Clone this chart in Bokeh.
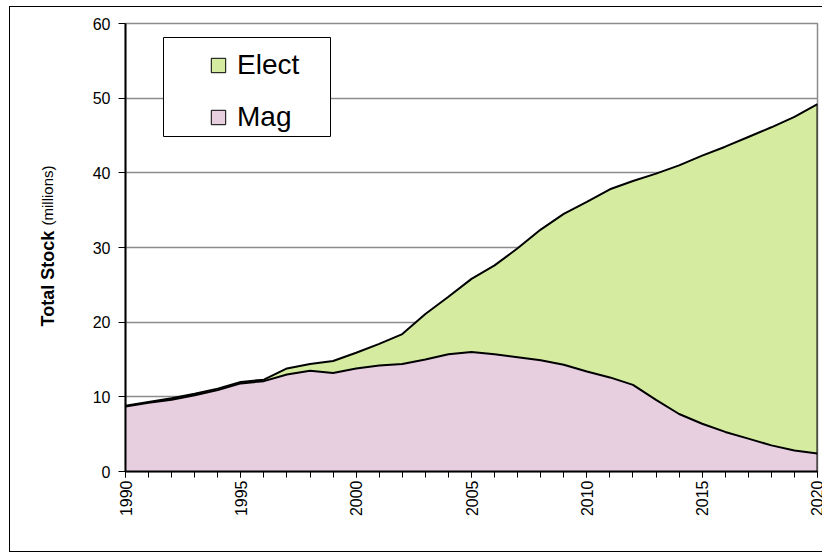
import math
from bokeh.plotting import figure
from bokeh.layouts import row
from bokeh.models import (Range1d, FixedTicker, Legend, LegendItem, Label,
                          BoxAnnotation, ColumnDataSource)
from bokeh.embed import file_html
from bokeh.resources import INLINE

# ---- data (millions) ----
years = list(range(1990, 2021))
mag = [8.7, 9.2, 9.6, 10.2, 10.9, 11.8, 12.1, 13.0, 13.5, 13.2, 13.8, 14.2,
       14.4, 15.0, 15.7, 16.0, 15.7, 15.3, 14.9, 14.3, 13.4, 12.6, 11.6, 9.6,
       7.7, 6.4, 5.3, 4.4, 3.5, 2.8, 2.4]
elect = [0.1, 0.1, 0.2, 0.2, 0.2, 0.2, 0.2, 0.8, 0.9, 1.6, 2.1, 2.9, 4.0, 6.1,
         7.7, 9.8, 11.9, 14.6, 17.5, 20.2, 22.7, 25.2, 27.3, 30.3, 33.3, 35.9,
         38.2, 40.4, 42.6, 44.7, 46.8]
y_ticks = [0, 10, 20, 30, 40, 50, 60]
x_label_ticks = [1990, 1995, 2000, 2005, 2010, 2015, 2020]
series = ["Mag", "Elect"]
fill_colors = ["#e8cfe0", "#d4eba0"]
y_title_bold = "Total Stock"
y_title_unit = "(millions)"

total = [m + e for m, e in zip(mag, elect)]
src = ColumnDataSource(dict(year=years, Mag=mag, Elect=elect, total=total))

FONT = "Liberation Sans"
H = 544

# ---- narrow panel holding the y-axis title (frame aligned with main) ----
pt = figure(width=60, height=H, output_backend="svg", toolbar_location=None,
            x_axis_type=None, y_axis_type=None,
            x_range=Range1d(0, 1), y_range=Range1d(0, 1), min_border=0)
pt.outline_line_color = None
pt.background_fill_color = "white"
pt.border_fill_color = "white"
pt.add_layout(Label(x=37, y=145, x_units="screen", y_units="screen",
                    text=y_title_bold, angle=math.pi / 2, text_align="left",
                    text_baseline="middle", text_font=FONT,
                    text_font_size="18px", text_font_style="bold",
                    text_color="black"))
pt.add_layout(Label(x=37, y=306, x_units="screen", y_units="screen",
                    text=y_title_unit, angle=math.pi / 2, text_align="right",
                    text_baseline="middle", text_font=FONT,
                    text_font_size="15px", text_color="black"))

# ---- main chart ----
p = figure(width=752, height=H, output_backend="svg", toolbar_location=None,
           x_range=Range1d(years[0], years[-1]),
           y_range=Range1d(y_ticks[0], y_ticks[-1]),
           min_border_left=55, min_border_right=5, min_border_top=16,
           min_border_bottom=80)
p.background_fill_color = "white"
p.border_fill_color = "white"
p.outline_line_color = "#8c8c8c"
p.outline_line_width = 1.5

p.varea_stack(series, x="year", source=src, color=fill_colors)
p.line("year", "Mag", source=src, line_color="black", line_width=2)
p.line("year", "total", source=src, line_color="black", line_width=2)
p.segment(x0=[years[-1]], y0=[0], x1=[years[-1]], y1=[total[-1]],
          line_color="black", line_width=2)

# grids
p.xgrid.grid_line_color = None
p.ygrid.grid_line_color = "#8c8c8c"
p.ygrid.grid_line_width = 1.5
p.ygrid.level = "underlay"

# x axis
xa = p.xaxis[0]
xa.ticker = FixedTicker(ticks=x_label_ticks, minor_ticks=years)
xa.major_label_orientation = math.pi / 2
xa.major_tick_out = 6
xa.major_tick_in = 0
xa.minor_tick_out = 6
xa.minor_tick_in = 0
xa.minor_tick_line_color = "black"
xa.major_tick_line_color = "black"
xa.axis_line_color = "black"
xa.axis_line_width = 2
xa.major_label_text_font = FONT
xa.major_label_text_font_size = "16px"
xa.major_label_text_color = "black"
xa.major_label_standoff = 3

# y axis
ya = p.yaxis[0]
ya.ticker = FixedTicker(ticks=y_ticks)
ya.minor_tick_line_color = None
ya.major_tick_out = 7
ya.major_tick_in = 0
ya.major_tick_line_color = "black"
ya.axis_line_color = "black"
ya.axis_line_width = 2
ya.major_label_text_font = FONT
ya.major_label_text_font_size = "16px"
ya.major_label_text_color = "black"
ya.major_label_standoff = 8

# legend box
p.add_layout(BoxAnnotation(left=38, right=205, top=434, bottom=335,
                           left_units="screen", right_units="screen",
                           top_units="screen", bottom_units="screen",
                           fill_color="white", fill_alpha=1.0,
                           line_color="black", line_alpha=1.0, line_width=1))

nan = float("nan")
leg_src = ColumnDataSource(dict(left=[nan], right=[nan], top=[nan], bottom=[nan]))
leg_r = {}
for name, col in zip(series, fill_colors):
    leg_r[name] = p.quad(left="left", right="right", top="top", bottom="bottom",
                         source=leg_src, fill_color=col, line_color="black",
                         line_width=1)

legend = Legend(items=[LegendItem(label="Elect", renderers=[leg_r["Elect"]]),
                       LegendItem(label="Mag", renderers=[leg_r["Mag"]])],
                location=(84, 338))
legend.padding = 0
legend.margin = 0
legend.border_line_color = None
legend.background_fill_alpha = 0
legend.glyph_width = 18
legend.glyph_height = 18
legend.label_standoff = 10
legend.spacing = 20
legend.label_height = 32
legend.label_text_font = FONT
legend.label_text_font_size = "28px"
legend.label_text_color = "black"
p.add_layout(legend)

layout = row(pt, p)
layout.styles = {"margin-left": "9px", "margin-top": "6px",
                 "border-left": "1px solid black",
                 "border-top": "1px solid black",
                 "border-bottom": "1px solid black"}

open("out.html", "w").write(file_html(layout, INLINE))
